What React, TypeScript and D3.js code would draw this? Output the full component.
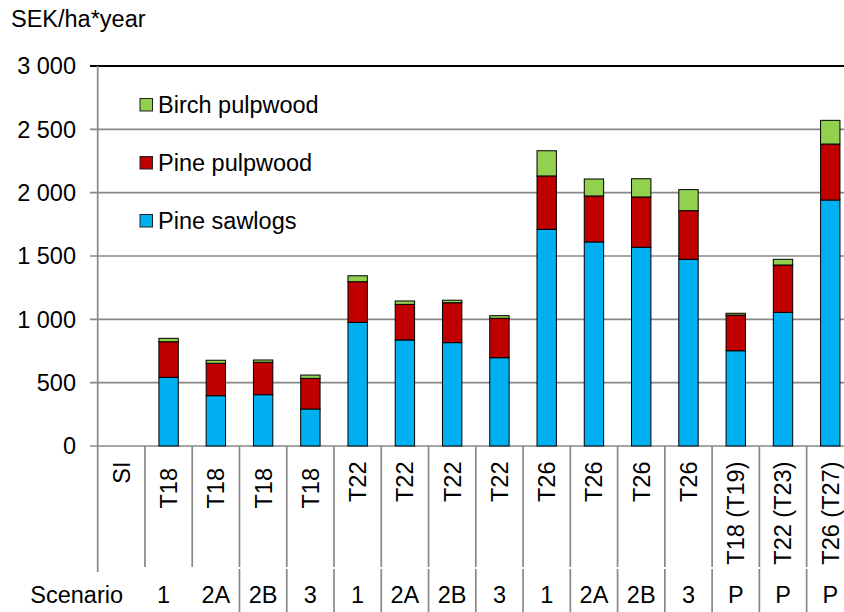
import React from 'react';
import * as d3 from 'd3';

// categories (stand / thinning) and scenario labels
const stands = ['SI', 'T18\u00A0', 'T18\u00A0', 'T18\u00A0', 'T18\u00A0', 'T22', 'T22', 'T22', 'T22', 'T26', 'T26', 'T26', 'T26', 'T18 (T19)', 'T22 (T23)', 'T26 (T27)'];
const scenarios = ['Scenario', '1', '2A', '2B', '3', '1', '2A', '2B', '3', '1', '2A', '2B', '3', 'P', 'P', 'P'];

// SEK/ha*year
const pineSawlogs = [0, 542, 397, 405, 292, 976, 837, 816, 697, 1711, 1611, 1569, 1474, 752, 1055, 1942];
const pinePulpwood = [0, 281, 256, 256, 242, 321, 281, 315, 311, 421, 363, 397, 384, 282, 374, 442];
const birchPulpwood = [0, 27, 24, 18, 26, 47, 27, 20, 21, 199, 134, 144, 166, 14, 45, 187];

const seriesNames = ['Pine sawlogs', 'Pine pulpwood', 'Birch pulpwood'];
const seriesColors = ['#00B0F0', '#C00000', '#92D050'];
const yTicks = [0, 500, 1000, 1500, 2000, 2500, 3000];

const W = 844;
const H = 612;
const left = 97.7;
const right = 853.9;
const top = 66;
const bottom = 446;
const font = '"Liberation Sans", Arial, sans-serif';
const fs = 23.5;

const fmt = (v: number) => d3.format(',')(v).replace(/,/g, ' ');

export default function App() {
  const idx = stands.map((_, i) => i);
  const x = d3.scaleBand<number>().domain(idx).range([left, right]).paddingInner(0).paddingOuter(0);
  const y = d3.scaleLinear().domain([0, 3000]).range([bottom, top]);
  const bw = x.bandwidth();
  const barW = bw * 0.41;

  const rows = idx.map(i => ({ i, s0: pineSawlogs[i], s1: pinePulpwood[i], s2: birchPulpwood[i] }));
  const stacked = d3.stack<any>().keys(['s0', 's1', 's2'])(rows);

  const legendOrder = [2, 1, 0];
  const legendY = [105, 163, 221];

  return (
    <svg width={W} height={H} style={{ position: 'absolute', left: 0, top: 0, background: '#fff' }} fontFamily={font}>
      <rect width={W} height={H} fill="#fff" />
      <text x={11} y={27} fontSize={fs} fill="#000">SEK/ha*year</text>

      {/* gridlines and ticks */}
      {yTicks.map(t => (
        <g key={t}>
          {t < 3000 && (
            <line x1={90} x2={right} y1={y(t)} y2={y(t)} stroke="#888" strokeWidth={1.7} />
          )}
          <text x={76} y={y(t)} dy="0.36em" textAnchor="end" fontSize={fs} fill="#000">{fmt(t)}</text>
        </g>
      ))}
      <line x1={90} x2={right} y1={y(3000)} y2={y(3000)} stroke="#000" strokeWidth={2} />
      <line x1={left} x2={left} y1={top} y2={572} stroke="#888" strokeWidth={1.7} />

      {/* bars */}
      {stacked.map((layer, si) => (
        <g key={si} fill={seriesColors[si]}>
          {layer.map((d, j) => (d[1] - d[0] > 0 ? (
            <rect key={j} x={(x(j) as number) + (bw - barW) / 2} width={barW}
              y={y(d[1])} height={y(d[0]) - y(d[1])} stroke="#000" strokeWidth={1} />
          ) : null))}
        </g>
      ))}

      {/* category dividers */}
      {idx.slice(1).map(i => (
        <g key={i}>
          <line x1={x(i)} x2={x(i)} y1={bottom} y2={567} stroke="#888" strokeWidth={1.7} />
          {i >= 3 && <line x1={x(i)} x2={x(i)} y1={569} y2={H} stroke="#888" strokeWidth={1.7} />}
        </g>
      ))}

      {/* rotated stand labels */}
      {stands.map((s, i) => (
        <text key={i} transform={`translate(${(x(i) as number) + bw / 2},461.5) rotate(-90)`} dy="0.36em"
          textAnchor="end" fontSize={fs} fill="#000">{s}</text>
      ))}

      {/* scenario labels */}
      {scenarios.map((s, i) => (
        i === 0
          ? <text key={i} x={123} y={603} textAnchor="end" fontSize={fs} fill="#000">{s}</text>
          : <text key={i} x={(x(i) as number) + bw / 2 - (i === 1 ? 5 : 0)} y={603} textAnchor="middle" fontSize={fs} fill="#000">{s}</text>
      ))}

      {/* legend */}
      {legendOrder.map((si, k) => (
        <g key={si}>
          <rect x={140} y={legendY[k] - 6.5} width={12.5} height={12.5} fill={seriesColors[si]} stroke="#222" strokeWidth={1} />
          <text x={158} y={legendY[k]} dy="0.36em" fontSize={fs} fill="#000">{seriesNames[si]}</text>
        </g>
      ))}
    </svg>
  );
}
